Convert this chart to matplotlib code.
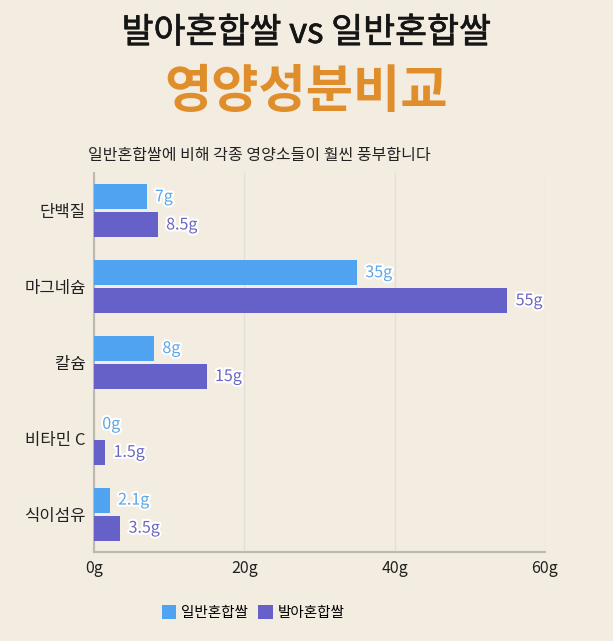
import matplotlib.pyplot as plt
import matplotlib.patheffects as pe
import numpy as np

plt.rcParams['font.family'] = ['Noto Sans CJK KR', 'DejaVu Sans']

categories = ['단백질', '마그네슘', '칼슘', '비타민 C', '식이섬유']
normal_rice = [7, 35, 8, 0, 2.1]
sprout_rice = [8.5, 55, 15, 1.5, 3.5]
normal_labels = ['7g', '35g', '8g', '0g', '2.1g']
sprout_labels = ['8.5g', '55g', '15g', '1.5g', '3.5g']
xticks = [0, 20, 40, 60]
xtick_labels = ['0g', '20g', '40g', '60g']

bg = '#F3ECE1'
blue = '#4FA3F0'
purple = '#6661C9'

fig = plt.figure(figsize=(6.13, 6.41), dpi=100, facecolor=bg)
ax = fig.add_axes([0.1533, 0.1388, 0.7357, 0.5912])
ax.set_facecolor(bg)

y = np.arange(len(categories))
h = 0.33
off = 0.185
ax.barh(y - off, normal_rice, height=h, color=blue, label='일반혼합쌀', zorder=3)
ax.barh(y + off, sprout_rice, height=h, color=purple, label='발아혼합쌀', zorder=3)

stroke = [pe.withStroke(linewidth=3, foreground='white')]
for yi, v, t in zip(y, normal_rice, normal_labels):
    ax.annotate(t, (v, yi - off), xytext=(6, 0), textcoords='offset points',
                va='center', ha='left', fontsize=11.5, color='#5AA6E6',
                path_effects=stroke, zorder=4)
for yi, v, t in zip(y, sprout_rice, sprout_labels):
    ax.annotate(t, (v, yi + off), xytext=(6, 0), textcoords='offset points',
                va='center', ha='left', fontsize=11.5, color='#6A66C0',
                path_effects=stroke, zorder=4)

ax.set_xlim(0, 60)
ax.set_ylim(len(categories) - 0.5, -0.5)
ax.set_yticks(y)
ax.set_yticklabels(categories, fontsize=12, color='#222222')
ax.set_xticks(xticks)
ax.set_xticklabels(xtick_labels, fontsize=11.5, color='#222222')
ax.tick_params(length=0, pad=6)
ax.grid(axis='x', color='#E3DED6', linewidth=1, zorder=0)
for s in ['top', 'right']:
    ax.spines[s].set_visible(False)
for s in ['left', 'bottom']:
    ax.spines[s].set_color('#BDB8B0')
    ax.spines[s].set_linewidth(1.5)

# title: regular weight thickened a little to look like medium
fig.text(0.5, 0.948, '발아혼합쌀 vs 일반혼합쌀', ha='center', va='center',
         fontsize=25, color='#151515',
         path_effects=[pe.withStroke(linewidth=0.5, foreground='#151515')])
fig.text(0.5, 0.858, '영양성분비교', ha='center', va='center',
         fontsize=37, fontweight='bold', color='#E08E2B')
fig.text(0.423, 0.758, '일반혼합쌀에 비해 각종 영양소들이 훨씬 풍부합니다', ha='center', va='center',
         fontsize=11.5, color='#222222')

leg = fig.legend(loc='center', bbox_to_anchor=(0.413, 0.045), ncol=2, frameon=False,
                 fontsize=10.5, handlelength=1.0, handleheight=1.1, handletextpad=0.35,
                 columnspacing=0.7)

fig.savefig('out.png', dpi=100, facecolor=bg)
